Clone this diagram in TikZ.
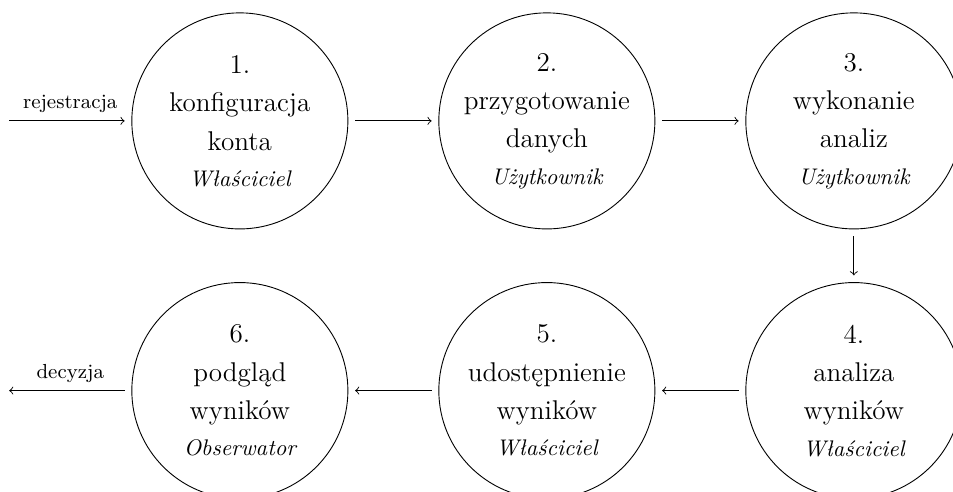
\documentclass[tikz,border=0pt]{standalone}
\usepackage{fontspec}
\usetikzlibrary{positioning}

\newcommand{\rola}[1]{{\fontsize{10}{12}\selectfont\itshape #1}}

\begin{document}
\begin{tikzpicture}[>=to,
    etap/.style={draw, circle, minimum size=3.36cm, inner sep=0pt,
      align=center, font=\fontsize{12}{17}\selectfont},
    przejscie/.style={->, shorten >=3pt, shorten <=3pt},
    opis/.style={font=\small, above}
  ]
    \useasboundingbox (-3.73,1.88) rectangle (11.09,-5.77);

    % gorny rzad
    \node[etap] (konfig) at (0,0) {1.\\ konfiguracja\\ konta\\[-1pt] \rola{Właściciel}};
    \node[etap, right=1.4cm of konfig] (przyg) {2.\\ przygotowanie\\ danych\\[-1pt] \rola{Użytkownik}};
    \node[etap, right=1.4cm of przyg] (wykon) {3.\\ wykonanie\\ analiz\\[-1pt] \rola{Użytkownik}};

    % dolny rzad
    \node[etap, below=0.82cm of wykon] (analiza) {4.\\ analiza\\ wyników\\[-1pt] \rola{Właściciel}};
    \node[etap, left=1.4cm of analiza] (udost) {5.\\ udostępnienie\\ wyników\\[-1pt] \rola{Właściciel}};
    \node[etap, left=1.4cm of udost] (podglad) {6.\\ podgląd\\ wyników\\[-1pt] \rola{Obserwator}};

    \coordinate[left=1.9cm of konfig] (wej);
    \coordinate[left=1.9cm of podglad] (wyj);

    \draw[przejscie, shorten <=0pt] (wej) -- node[opis] {rejestracja} (konfig);
    \draw[przejscie] (konfig) -- (przyg);
    \draw[przejscie] (przyg) -- (wykon);
    \draw[przejscie] (wykon) -- (analiza);
    \draw[przejscie] (analiza) -- (udost);
    \draw[przejscie] (udost) -- (podglad);
    \draw[przejscie, shorten >=0pt] (podglad) -- node[opis] {decyzja} (wyj);
\end{tikzpicture}
\end{document}
